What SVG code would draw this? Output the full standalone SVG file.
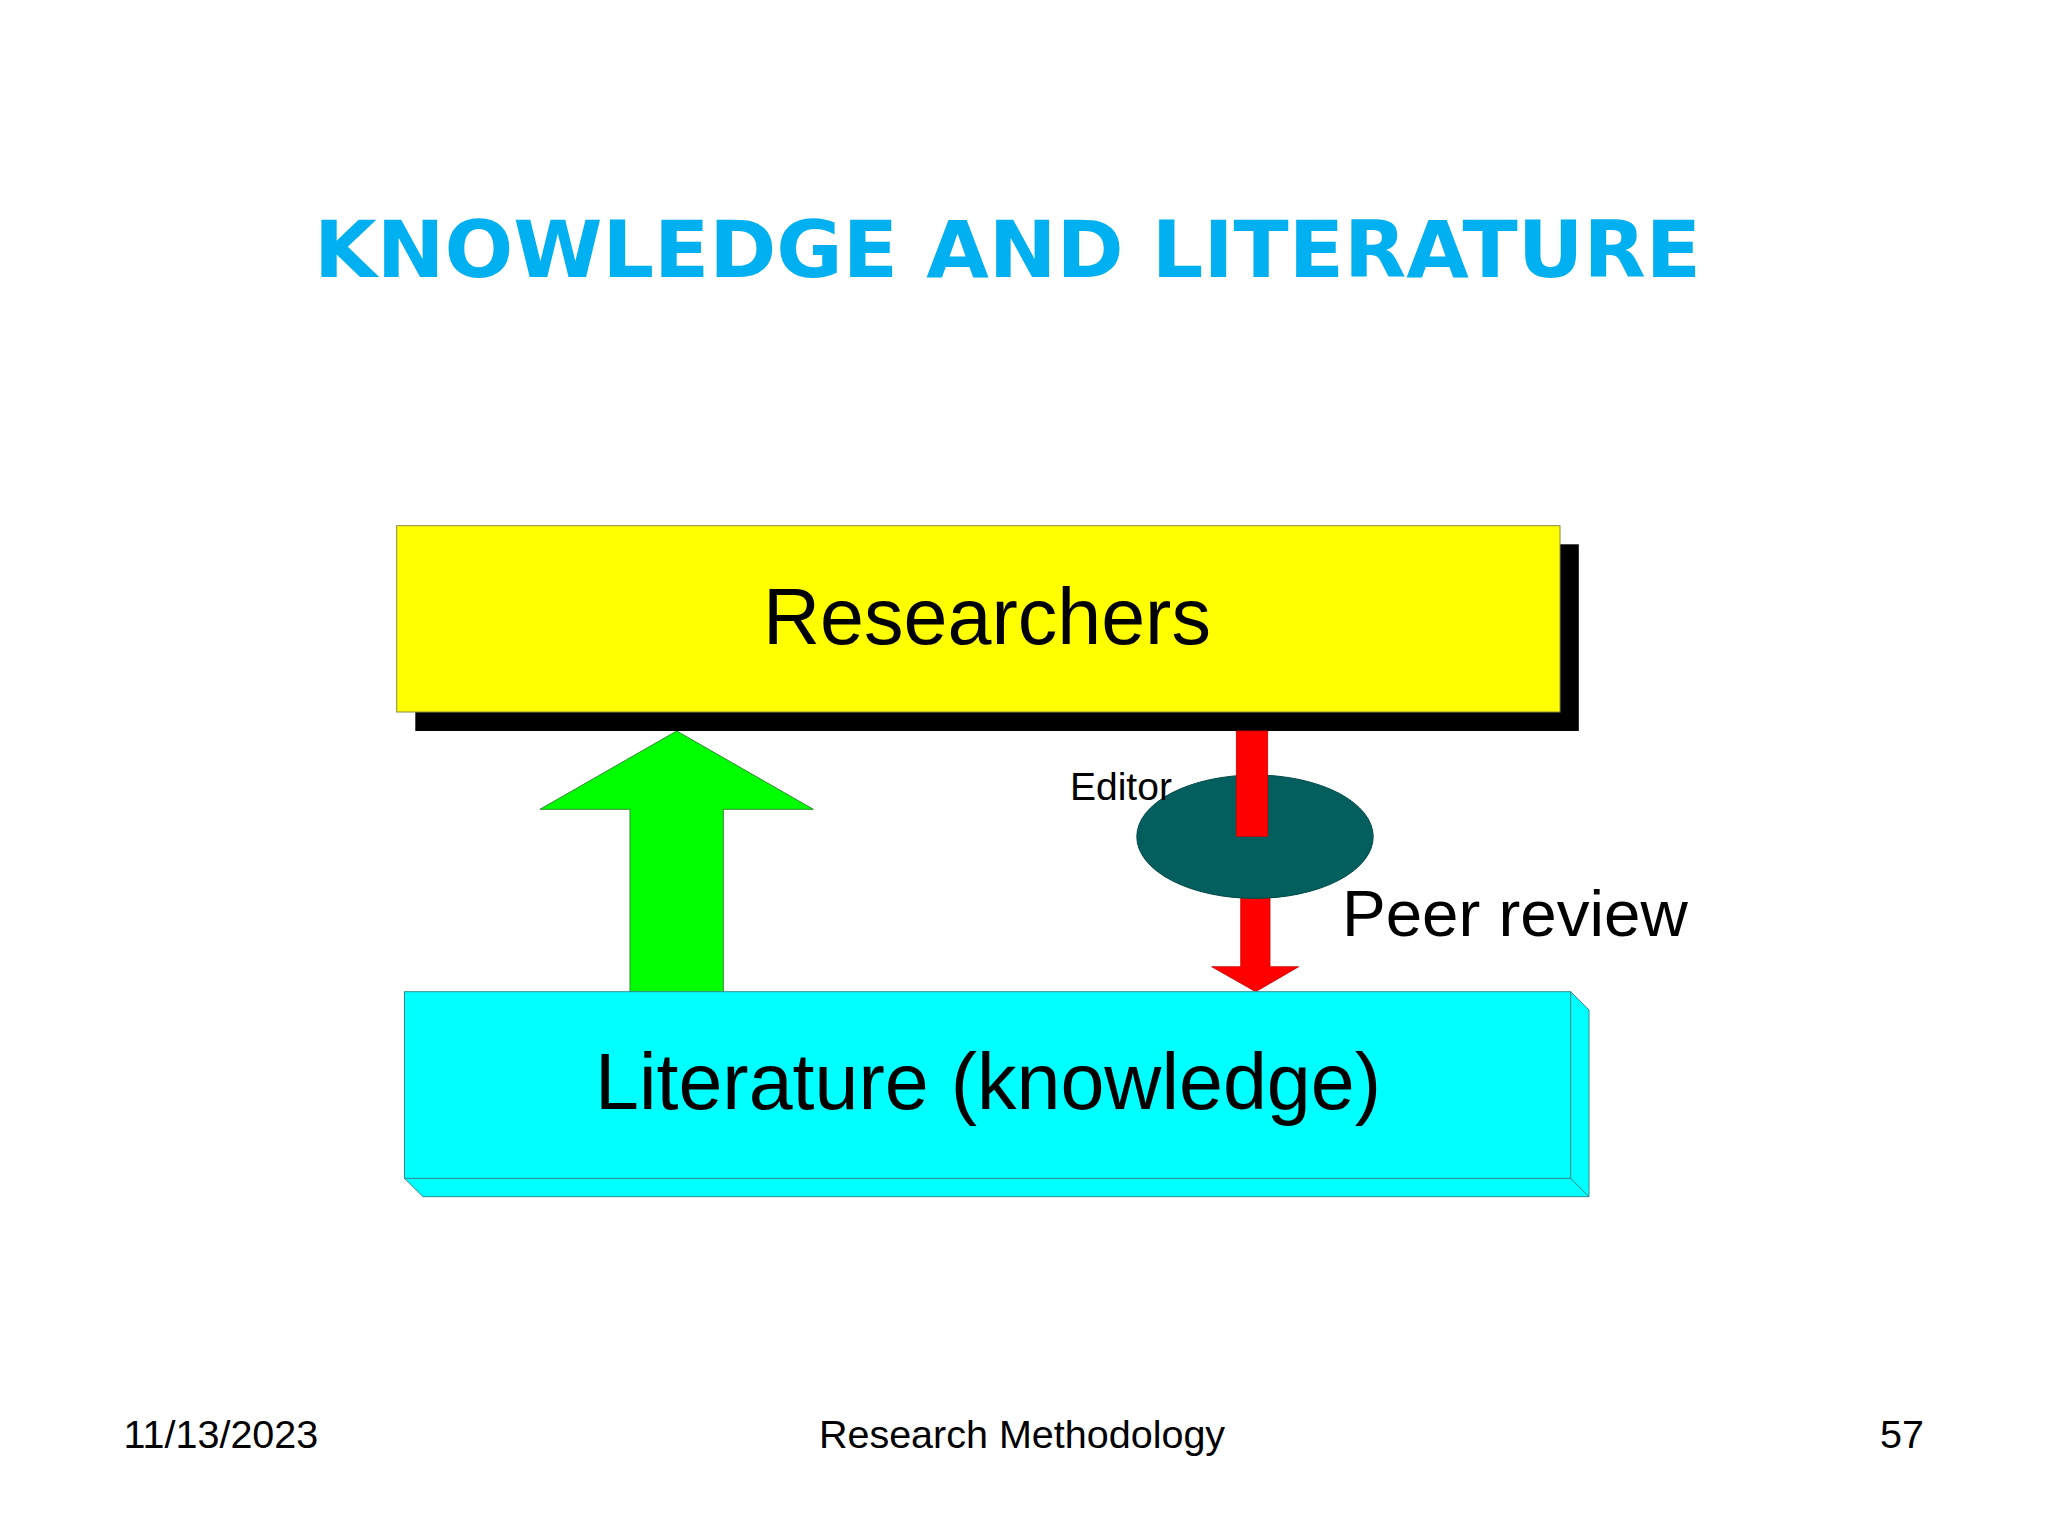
<svg xmlns="http://www.w3.org/2000/svg" width="2048" height="1536" viewBox="0 0 2048 1536">
<style>
.lbl{font-family:"Liberation Sans",Arial,sans-serif;fill:#000}
.title{font-family:"DejaVu Sans",Verdana,sans-serif;font-weight:bold;fill:#00B0F0}
.foot{font-family:"Liberation Sans",Arial,sans-serif;font-size:39.5px;fill:#000}
</style>
<rect x="0" y="0" width="2048" height="1536" fill="#ffffff"/>
<text class="title" x="314" y="276.7" font-size="79" textLength="1387" lengthAdjust="spacingAndGlyphs">KNOWLEDGE AND LITERATURE</text>

<g id="connectors">
  <polygon id="green-arrow" points="676.7,731 813.3,809.3 723.3,809.3 723.3,992 630,992 630,809.3 540,809.3" fill="#00FF00" stroke="#2e8b2e" stroke-width="1"/>
  <polygon id="red-arrow-lower" points="1240.7,836 1270,836 1270,966.7 1298.7,966.7 1255.7,991.7 1211.7,966.7 1240.7,966.7" fill="#FF0000" stroke="#cc0000" stroke-width="0.8"/>
</g>

<g id="researchers">
  <rect x="415.3" y="544.3" width="1163.5" height="186.7" fill="#000000"/>
  <rect x="396.7" y="525.7" width="1163.3" height="186.3" fill="#FFFF00" stroke="#8c8c3c" stroke-width="1"/>
  <text class="lbl" x="987" y="644" font-size="79" text-anchor="middle">Researchers</text>
</g>

<g id="literature">
  <polygon points="404.5,1178.3 1570.6,1178.3 1589,1196.7 423,1196.7" fill="#00FFFF" stroke="#2f8f8f" stroke-width="1"/>
  <polygon points="1570.6,991.7 1589,1010 1589,1196.7 1570.6,1178.3" fill="#00FFFF" stroke="#2f8f8f" stroke-width="1"/>
  <rect x="404.5" y="991.7" width="1166.1" height="186.6" fill="#00FFFF" stroke="#2f8f8f" stroke-width="1"/>
  <text class="lbl" x="988" y="1109" font-size="79" text-anchor="middle">Literature (knowledge)</text>
</g>

<g id="editor">
  <ellipse cx="1255" cy="836.7" rx="118.2" ry="61.7" fill="#025F5E" stroke="#014848" stroke-width="1"/>
  <rect id="red-arrow-upper" x="1236.3" y="731" width="31.4" height="105.3" fill="#FF0000" stroke="#cc0000" stroke-width="0.8"/>
  <text class="lbl" x="1070" y="800" font-size="39">Editor</text>
</g>

<g id="peer-review">
  <text class="lbl" x="1342" y="935.7" font-size="65.5">Peer review</text>
</g>

<text class="foot" x="123.5" y="1447.7">11/13/2023</text>
<text class="foot" x="1022" y="1447.7" text-anchor="middle">Research Methodology</text>
<text class="foot" x="1902" y="1447.7" text-anchor="middle">57</text>
</svg>
